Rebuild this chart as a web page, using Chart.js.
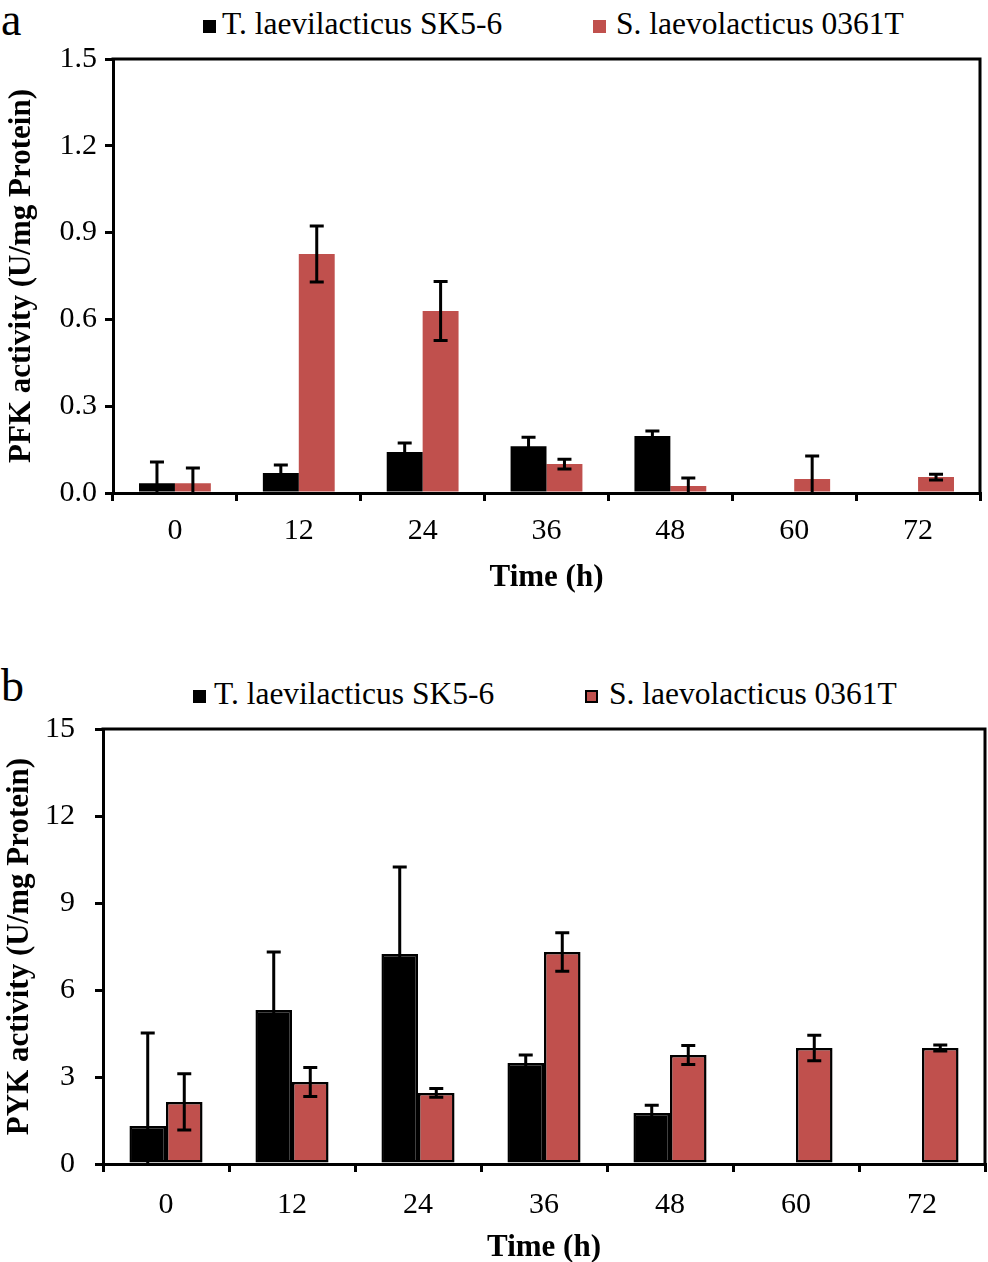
<!DOCTYPE html>
<html>
<head>
<meta charset="utf-8">
<script src="https://cdn.jsdelivr.net/npm/chart.js@4.4.1/dist/chart.umd.min.js"></script>
<style>
  html, body { margin: 0; padding: 0; background: #fff; }
  body { width: 988px; height: 1262px; position: relative; overflow: hidden; font-family: 'Liberation Serif', 'Times New Roman', serif; color: #000; }
  .panel { position: absolute; left: 0; width: 988px; }
  .letter { position: absolute; font-size: 46px; line-height: 46px; }
  .lg { position: absolute; font-size: 31.5px; line-height: 31.5px; white-space: nowrap; }
  .sq { position: absolute; width: 13px; height: 13px; box-sizing: border-box; }
</style>
</head>
<body>
<div class="letter" style="left:1px; top:-3px;">a</div>
<div class="sq" style="left:203px; top:20px; background:#000;"></div>
<div class="lg" style="left:222px; top:8px;">T. laevilacticus SK5-6</div>
<div class="sq" style="left:593px; top:20px; background:#C0504D;"></div>
<div class="lg" style="left:616px; top:8px;">S. laevolacticus 0361T</div>
<div class="panel" style="top:0; height:620px;"><canvas id="c1" width="988" height="620"></canvas></div>

<div class="letter" style="left:1px; top:663px;">b</div>
<div class="sq" style="left:193px; top:690px; background:#000;"></div>
<div class="lg" style="left:214px; top:678px;">T. laevilacticus SK5-6</div>
<div class="sq" style="left:585px; top:690px; background:#C0504D; border:2px solid #000;"></div>
<div class="lg" style="left:609px; top:678px;">S. laevolacticus 0361T</div>
<div class="panel" style="top:640px; height:622px;"><canvas id="c2" width="988" height="622"></canvas></div>

<script>
// ---- data ----
const timeLabels = ['0', '12', '24', '36', '48', '60', '72'];
const seriesNames = ['T. laevilacticus SK5-6', 'S. laevolacticus 0361T'];

const pfkT = [0.034, 0.069, 0.142, 0.162, 0.197, 0, 0];
const pfkTErr = [0.073, 0.028, 0.031, 0.031, 0.017, 0, 0];
const pfkS = [0.034, 0.826, 0.629, 0.100, 0.024, 0.048, 0.055];
const pfkSErr = [0.052, 0.097, 0.102, 0.017, 0.028, 0.080, 0.010];

const pykT = [1.31, 5.31, 7.24, 3.48, 1.76, 0, 0];
const pykTErr = [3.21, 2.0, 3.0, 0.28, 0.27, 0, 0];
const pykS = [2.14, 2.83, 2.45, 7.31, 3.76, 4.0, 4.0];
const pykSErr = [0.97, 0.5, 0.15, 0.66, 0.33, 0.44, 0.1];

const pfkTicks = [0, 0.3, 0.6, 0.9, 1.2, 1.5];
const pykTicks = [0, 3, 6, 9, 12, 15];

const RED = '#C0504D';
const BLACK = '#000000';
const FONT = "'Liberation Serif', 'Times New Roman', serif";

// error bars drawn through the scales
const errorBarPlugin = {
  id: 'errorBars',
  afterDatasetsDraw(chart) {
    const ctx = chart.ctx;
    const yScale = chart.scales.y;
    const area = chart.chartArea;
    ctx.save();
    ctx.beginPath();
    ctx.rect(area.left, area.top, area.right - area.left, area.bottom - area.top);
    ctx.clip();
    ctx.strokeStyle = '#000';
    ctx.lineWidth = 3;
    chart.data.datasets.forEach((ds, i) => {
      const meta = chart.getDatasetMeta(i);
      meta.data.forEach((bar, j) => {
        const v = ds.data[j];
        const e = ds.errors[j];
        if (!e) return;
        const hi = yScale.getPixelForValue(v + e);
        const loVal = v - e;
        const lo = yScale.getPixelForValue(Math.max(loVal, yScale.min));
        const x = bar.x;
        const cap = 7;
        ctx.beginPath();
        ctx.moveTo(x, lo); ctx.lineTo(x, hi);
        ctx.moveTo(x - cap, hi); ctx.lineTo(x + cap, hi);
        if (loVal > yScale.min) { ctx.moveTo(x - cap, lo); ctx.lineTo(x + cap, lo); }
        ctx.stroke();
      });
    });
    ctx.restore();
  }
};

// top and right frame lines of the plot box
const framePlugin = {
  id: 'frame',
  afterDraw(chart) {
    const a = chart.chartArea;
    const ctx = chart.ctx;
    ctx.save();
    ctx.strokeStyle = '#000';
    ctx.lineWidth = 3;
    ctx.beginPath();
    ctx.moveTo(a.left - 1.5, a.top);
    ctx.lineTo(a.right, a.top);
    ctx.lineTo(a.right, a.bottom + 1.5);
    ctx.stroke();
    ctx.restore();
  }
};

function makeChart(id, o) {
  return new Chart(document.getElementById(id), {
    type: 'bar',
    data: {
      labels: timeLabels,
      datasets: [
        { label: seriesNames[0], data: o.t, errors: o.tErr, backgroundColor: BLACK,
          borderColor: BLACK, borderWidth: o.border, borderSkipped: false,
          barPercentage: 1.0, categoryPercentage: 0.58 },
        { label: seriesNames[1], data: o.s, errors: o.sErr, backgroundColor: RED,
          borderColor: o.border ? BLACK : RED, borderWidth: o.border, borderSkipped: false,
          barPercentage: 1.0, categoryPercentage: 0.58 }
      ]
    },
    options: {
      responsive: false,
      animation: false,
      devicePixelRatio: 1,
      layout: { padding: { top: o.padTop, right: o.padRight, left: 0, bottom: 0 } },
      plugins: { legend: { display: false }, tooltip: { enabled: false } },
      scales: {
        x: {
          offset: true,
          grid: { display: true, drawOnChartArea: false, drawTicks: true, tickLength: 8,
                  color: '#000', lineWidth: 3, offset: true },
          border: { display: true, color: '#000', width: 3 },
          ticks: { color: '#000', font: { family: FONT, size: 30 }, padding: o.xTickPad, maxRotation: 0 },
          title: { display: true, text: 'Time (h)', color: '#000',
                   font: { family: FONT, size: 31, weight: 'bold', lineHeight: 1 },
                   padding: { top: 0, bottom: o.xTitlePad } },
          afterFit(scale) { scale.height = o.xHeight; }
        },
        y: {
          min: 0, max: o.max,
          afterBuildTicks(scale) { scale.ticks = o.ticks.map(v => ({ value: v })); },
          grid: { display: true, drawOnChartArea: false, drawTicks: true, tickLength: 8,
                  color: '#000', lineWidth: 3 },
          border: { display: true, color: '#000', width: 3 },
          ticks: { color: '#000', font: { family: FONT, size: 30 }, padding: o.yTickPad,
                   callback: (v) => o.fmt(v) },
          title: { display: true, text: o.yTitle, color: '#000',
                   font: { family: FONT, size: 31, weight: 'bold', lineHeight: 1 },
                   padding: { top: o.yTitlePad, bottom: 0 } },
          afterFit(scale) { scale.width = o.yWidth; }
        }
      }
    },
    plugins: [errorBarPlugin, framePlugin]
  });
}

makeChart('c1', {
  t: pfkT, tErr: pfkTErr, s: pfkS, sErr: pfkSErr, border: 0,
  max: 1.5, ticks: pfkTicks, fmt: v => Number(v).toFixed(1),
  yTitle: 'PFK activity (U/mg Protein)',
  padTop: 59, padRight: 8, xHeight: 127, yWidth: 113,
  xTickPad: 12, xTitlePad: 27, yTickPad: 8, yTitlePad: 6
});

makeChart('c2', {
  t: pykT, tErr: pykTErr, s: pykS, sErr: pykSErr, border: 2.5,
  max: 15, ticks: pykTicks, fmt: v => String(Math.round(v)),
  yTitle: 'PYK activity (U/mg Protein)',
  padTop: 89, padRight: 3, xHeight: 98, yWidth: 103,
  xTickPad: 15, xTitlePad: -1, yTickPad: 20, yTitlePad: 4
});
</script>
</body>
</html>
